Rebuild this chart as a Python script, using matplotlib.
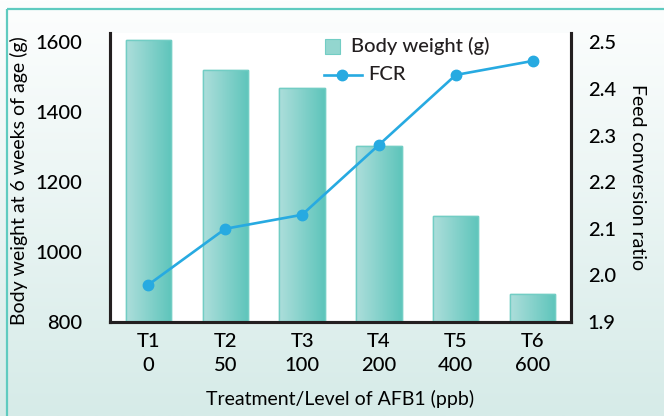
"""Body weight and FCR of broilers fed graded AFB1 levels."""

import matplotlib
matplotlib.use("Agg")
import matplotlib.pyplot as plt
import numpy as np
from matplotlib.colors import LinearSegmentedColormap
from matplotlib.lines import Line2D
from matplotlib.patches import Rectangle

# ---------------------------------------------------------------------------
# Data
# ---------------------------------------------------------------------------

treatments = ["T1", "T2", "T3", "T4", "T5", "T6"]
afb1_ppb = ["0", "50", "100", "200", "400", "600"]
body_weight = [1605, 1520, 1470, 1302, 1102, 880]
fcr = [1.98, 2.10, 2.13, 2.28, 2.43, 2.46]

TEXT = "#231f20"
LINE_BLUE = "#27aae1"
TEAL_EDGE = "#72cdc4"
BW_MIN, BW_MAX = 800, 1626

plt.rcParams["font.family"] = ["Lato", "DejaVu Sans"]
plt.rcParams["font.weight"] = "medium"
plt.rcParams["font.size"] = 14.5
plt.rcParams["text.color"] = TEXT

W, H = 664, 416
fig = plt.figure(figsize=(W / 100, H / 100), dpi=100)


def fx(px):
    return px / W


def fy(py):
    return 1 - py / H


# soft vertical wash behind everything, with the frame line
bg = fig.add_axes([0, 0, 1, 1], zorder=-10)
bg_cmap = LinearSegmentedColormap.from_list("wash", ["#fdfefe", "#d6ebe8"])
bg.imshow(np.linspace(0, 1, 256).reshape(-1, 1), cmap=bg_cmap, aspect="auto",
          extent=(0, W, H, 0))
bg.add_patch(Rectangle((7, 9), W + 20, H + 20, fill=False, edgecolor="#5fcbc0",
                       linewidth=1.6))
bg.set_xlim(0, W)
bg.set_ylim(H, 0)
bg.axis("off")

# ---------------------------------------------------------------------------
# Bars (left axis)
# ---------------------------------------------------------------------------

ax1 = fig.add_axes([110 / W, 94 / H, 461 / W, 289 / H])
ax1.set_facecolor("white")
x = np.arange(len(treatments))
bar_w = 0.59
bars = ax1.bar(x, body_weight, width=bar_w, color="#8fd4cd", edgecolor=TEAL_EDGE,
               linewidth=1.0, zorder=2)

bar_cmap = LinearSegmentedColormap.from_list("bar", ["#addedb", "#5ec5bb"])
grad = np.linspace(0, 1, 128).reshape(1, -1)
for rect in bars:
    x0 = rect.get_x()
    # gradient only over the visible part of the bar
    img = ax1.imshow(grad, cmap=bar_cmap, aspect="auto", zorder=2.5,
                     extent=(x0, x0 + rect.get_width(), BW_MIN, rect.get_height()))
    img.set_clip_path(rect)
    ax1.add_patch(Rectangle((x0, 0), rect.get_width(), rect.get_height(),
                            fill=False, edgecolor=TEAL_EDGE, linewidth=1.0, zorder=3))

ax1.set_xlim(-0.5, 5.5)
ax1.set_ylim(BW_MIN, BW_MAX)
ax1.set_yticks([800, 1000, 1200, 1400, 1600])
ax1.set_xticks(x)
ax1.set_xticklabels([f"{t}\n{p}" for t, p in zip(treatments, afb1_ppb)],
                    linespacing=1.5)
ax1.tick_params(axis="y", length=0, pad=20)
ax1.tick_params(axis="x", length=0, pad=8)
ax1.set_ylabel("Body weight at 6 weeks of age (g)", fontsize=14)
ax1.yaxis.set_label_coords(-0.178, 0.49)
ax1.set_xlabel("Treatment/Level of AFB1 (ppb)", fontsize=14)
ax1.xaxis.set_label_coords(0.5, -0.235)

# ---------------------------------------------------------------------------
# FCR line (right axis)
# ---------------------------------------------------------------------------

ax2 = ax1.twinx()
ax2.plot(x, fcr, color=LINE_BLUE, linewidth=1.9, marker="o", markersize=7.5,
         zorder=5)
ax2.set_ylim(1.9, 2.52)
ax2.set_yticks([1.9, 2.0, 2.1, 2.2, 2.3, 2.4, 2.5])
ax2.set_yticklabels(["1.9", "2.0", "2.1", "2.2", "2.3", "2.4", "2.5"])
ax2.tick_params(axis="y", length=0, pad=12)
ax2.set_ylabel("Feed conversion ratio", rotation=270, va="center", fontsize=14)
ax2.yaxis.set_label_coords(1.145, 0.5)

for a in (ax1, ax2):
    a.spines["top"].set_visible(False)
    for side in ("left", "right", "bottom"):
        a.spines[side].set_color(TEXT)
        a.spines[side].set_linewidth(2.2)

# ---------------------------------------------------------------------------
# Legend, laid out by hand
# ---------------------------------------------------------------------------

fig.add_artist(Rectangle((fx(325), fy(54)), fx(15), 15 / H, transform=fig.transFigure,
                         facecolor="#93d6cf", edgecolor=TEAL_EDGE, linewidth=0.8))
fig.text(fx(351), fy(46), "Body weight (g)", va="center", ha="left")
fig.add_artist(Line2D([fx(324), fx(362)], [fy(75), fy(75)], transform=fig.transFigure,
                      color=LINE_BLUE, linewidth=1.9))
fig.add_artist(Line2D([fx(342)], [fy(75)], transform=fig.transFigure,
                      color=LINE_BLUE, marker="o", markersize=7.5))
fig.text(fx(368), fy(75), "FCR", va="center", ha="left")

fig.savefig("out.png", dpi=100)
